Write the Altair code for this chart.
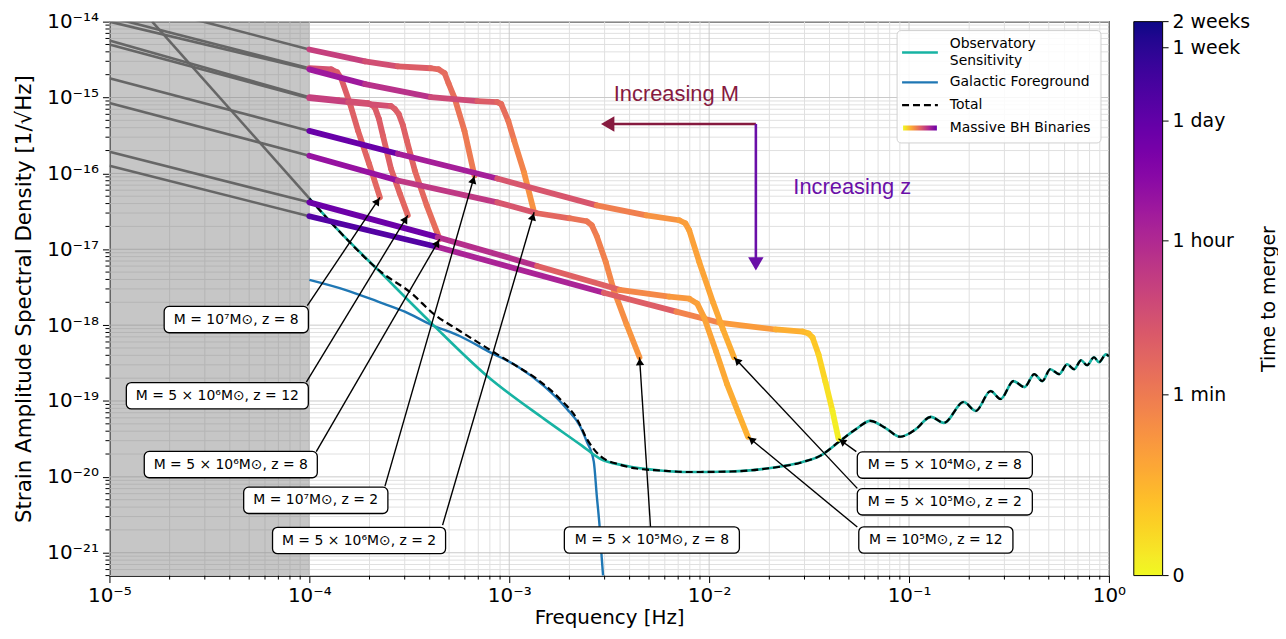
import math
import json
import altair as alt
import pandas as pd

W, H = 1005, 557
XDOM = [1e-5, 1.0]
YDOM = [5e-22, 1e-14]

# ---------------- tick labels ----------------
x_major = [1e-5, 1e-4, 1e-3, 1e-2, 1e-1, 1.0]
x_major_labels = ["10⁻⁵", "10⁻⁴", "10⁻³", "10⁻²", "10⁻¹", "10⁰"]
y_major = [1e-21, 1e-20, 1e-19, 1e-18, 1e-17, 1e-16, 1e-15, 1e-14]
y_major_labels = ["10⁻²¹", "10⁻²⁰", "10⁻¹⁹", "10⁻¹⁸", "10⁻¹⁷", "10⁻¹⁶", "10⁻¹⁵", "10⁻¹⁴"]
minor_mult = [2, 3, 4, 5, 6, 7, 8, 9]
x_decades = [1e-5, 1e-4, 1e-3, 1e-2, 1e-1]
y_decades = [1e-22, 1e-21, 1e-20, 1e-19, 1e-18, 1e-17, 1e-16, 1e-15]

# colour bar: time to merger [s]
cbar_values = [0, 60, 3600, 86400, 604800, 1209600]
cbar_labels = ["0", "1 min", "1 hour", "1 day", "1 week", "2 weeks"]
T_OFFSET = 0.5  # colour scale is log(t + 0.5)

shade_range = [1e-5, 1e-4]

# ---------------- noise curves ----------------
sens_lo_f = [1.636e-5, 1.0e-4]
sens_lo_h = [1.0e-14, 4.68e-17]

sens_f = [1.0e-4, 1.394e-4, 2.205e-4, 4.05e-4, 7.77e-4, 1.493e-3, 2.308e-3, 2.836e-3, 3.776e-3,
          5.705e-3, 7.86e-3, 1.287e-2, 1.943e-2, 2.935e-2, 3.607e-2, 4.435e-2, 5.45e-2, 6.40e-2,
          7.60e-2, 9.02e-2, 0.1071, 0.1287, 0.1493, 0.1878, 0.2154, 0.2559, 0.2869, 0.3330,
          0.3776, 0.4234, 0.4642, 0.5087, 0.5640, 0.618, 0.6696, 0.7255, 0.777, 0.842, 0.892,
          0.966, 1.0]
sens_h = [4.68e-17, 1.784e-17, 5.34e-18, 1.081e-18, 2.12e-19, 5.81e-20, 2.58e-20, 1.741e-20, 1.41e-20,
          1.213e-20, 1.159e-20, 1.177e-20, 1.288e-20, 1.567e-20, 1.906e-20, 2.862e-20, 4.30e-20, 5.47e-20,
          4.43e-20, 3.38e-20, 4.17e-20, 6.17e-20, 5.15e-20, 9.70e-20, 7.40e-20, 1.352e-19, 1.062e-19,
          1.827e-19, 1.525e-19, 2.257e-19, 1.827e-19, 2.62e-19, 2.257e-19, 3.05e-19, 2.62e-19, 3.44e-19,
          2.96e-19, 3.77e-19, 3.24e-19, 4.12e-19, 3.88e-19]

gal_f = [1.0e-4, 1.51e-4, 2.205e-4, 3.003e-4, 4.05e-4, 5.705e-4, 8.04e-4, 1.096e-3, 1.493e-3,
         1.943e-3, 2.255e-3, 2.443e-3, 2.648e-3, 2.74e-3, 2.836e-3, 2.902e-3, 3.004e-3]
gal_h = [3.95e-18, 2.92e-18, 2.04e-18, 1.507e-18, 1.018e-18, 7.09e-19, 4.38e-19, 2.87e-19, 1.571e-19,
         7.86e-20, 4.71e-20, 2.91e-20, 1.59e-20, 5.71e-21, 2.11e-21, 8.55e-22, 2.57e-22]

tot_f = [1.0e-4, 1.394e-4, 2.28e-4, 3.217e-4, 4.234e-4, 5.51e-4, 7.51e-4, 1.012e-3, 1.378e-3,
         1.794e-3, 2.18e-3, 2.443e-3, 2.836e-3, 3.565e-3, 4.33e-3] + sens_f[9:]
tot_h = [4.68e-17, 1.784e-17, 5.03e-18, 2.67e-18, 1.376e-18, 8.76e-19, 5.25e-19, 3.24e-19, 1.941e-19,
         1.062e-19, 5.81e-20, 3.18e-20, 1.906e-20, 1.453e-20, 1.288e-20] + sens_h[9:]

# ---------------- massive BH binary tracks (f [Hz], ASD, time to merger [s]) ----------------
m1e7z8_f = [1.0e-4, 1.287e-4, 1.378e-4, 1.443e-4, 1.60e-4, 1.753e-4, 1.99e-4, 2.255e-4]
m1e7z8_h = [2.43e-15, 2.35e-15, 2.15e-15, 1.79e-15, 8.19e-16, 3.63e-16, 1.34e-16, 4.82e-17]
m1e7z8_t = [577, 371, 320, 277, 239, 206, 178, 154]

m5e6z12_f = [1.0e-4, 1.394e-4, 1.966e-4, 2.058e-4, 2.13e-4, 2.23e-4, 2.335e-4, 2.56e-4, 2.835e-4, 3.11e-4]
m5e6z12_h = [1.01e-15, 9.25e-16, 8.44e-16, 7.95e-16, 7.27e-16, 5.21e-16, 3.13e-16, 1.156e-16, 5.44e-17, 2.80e-17]
m5e6z12_t = [1600, 775, 371, 320, 277, 255, 239, 206, 178, 154]

m5e6z8_f = [1.0e-4, 1.563e-4, 2.56e-4, 2.678e-4, 2.80e-4, 2.935e-4, 3.075e-4, 3.37e-4, 3.865e-4, 4.485e-4]
m5e6z8_h = [9.8e-16, 8.71e-16, 7.72e-16, 7.05e-16, 6.06e-16, 4.35e-16, 2.69e-16, 1.088e-16, 3.79e-17, 1.36e-17]
m5e6z8_t = [1600, 775, 320, 277, 239, 220, 206, 178, 133, 99]

m1e7z2_f = [1.0e-4, 1.90e-4, 2.77e-4, 4.05e-4, 4.435e-4, 4.75e-4, 4.97e-4, 5.33e-4, 5.97e-4, 6.70e-4]
m1e7z2_h = [4.30e-15, 3.00e-15, 2.58e-15, 2.43e-15, 2.35e-15, 2.09e-15, 1.543e-15, 9.8e-16, 3.63e-16, 9.36e-17]
m1e7z2_t = [1600, 775, 371, 178, 150, 133, 115, 99, 74, 55]

m5e6z2_f = [1.0e-4, 1.90e-4, 4.05e-4, 6.93e-4, 8.71e-4, 9.12e-4, 9.89e-4, 1.059e-3, 1.187e-3, 1.332e-3]
m5e6z2_h = [2.35e-15, 1.50e-15, 1.01e-15, 8.97e-16, 8.71e-16, 8.19e-16, 4.91e-16, 2.69e-16, 1.02e-16, 3.07e-17]
m5e6z2_t = [14600, 4500, 1200, 371, 178, 140, 100, 55, 30, 16.5]

m5e5z8_f = [1.0e-4, 2.77e-4, 8.71e-4, 1.378e-3, 2.01e-3, 2.443e-3, 2.587e-3, 2.74e-3, 3.04e-3, 3.33e-3, 3.865e-3, 4.485e-3]
m5e5z8_h = [1.71e-16, 8.05e-17, 4.15e-17, 2.98e-17, 2.56e-17, 2.34e-17, 2.07e-17, 1.489e-17, 6.80e-18, 2.92e-18, 1.02e-18, 3.77e-19]
m5e5z8_t = [30500, 4500, 577, 239, 99, 74, 64, 55, 41, 30, 22, 16.5]

m5e4z8_f = [1.0e-4, 4.385e-4, 2.97e-3, 6.85e-3, 1.121e-2, 2.154e-2, 2.935e-2, 3.145e-2, 3.29e-2, 3.525e-2, 3.82e-2, 4.14e-2, 4.435e-2]
m5e4z8_h = [2.72e-17, 1.069e-17, 2.67e-18, 1.507e-18, 1.081e-18, 8.76e-19, 8.24e-19, 7.77e-19, 6.88e-19, 4.12e-19, 1.773e-19, 7.40e-20, 3.18e-20]
m5e4z8_t = [770000, 30500, 775, 74, 22, 9.0, 4.7, 3.6, 2.9, 1.7, 0.9, 0.4, 0.08]

m5e5z2_f = [1.0e-4, 2.77e-4, 8.71e-4, 2.74e-3, 4.86e-3, 7.09e-3, 7.60e-3, 7.95e-3, 8.92e-3, 1.047e-2, 1.174e-2, 1.332e-2]
m5e5z2_h = [3.63e-16, 1.816e-16, 8.55e-17, 3.79e-17, 2.80e-17, 2.41e-17, 2.20e-17, 1.78e-17, 6.80e-18, 1.98e-18, 8.76e-19, 3.77e-19]
m5e5z2_t = [206000, 22700, 1600, 85, 30, 14.2, 13.0, 12.2, 10.4, 9.0, 7.6, 6.5]

m1e5z12_f = [1.0e-4, 4.385e-4, 1.378e-3, 3.565e-3, 6.32e-3, 7.95e-3, 8.72e-3, 9.44e-3, 1.083e-2, 1.229e-2, 1.394e-2, 1.563e-2]
m1e5z12_h = [4.15e-17, 1.444e-17, 6.03e-18, 2.92e-18, 2.37e-18, 2.23e-18, 1.92e-18, 1.257e-18, 4.51e-19, 1.67e-19, 7.18e-20, 3.38e-20]
m1e5z12_t = [370000, 9400, 775, 55, 19, 14.2, 12.2, 10.4, 9.0, 7.6, 6.5, 5.6]

# low-frequency (grey) continuation of each track: ASD at 1e-5 Hz
track_h_at_1e5 = [1.15e-14, 5.64e-15, 5.0e-15, 2.1e-14, 1.0e-14, 8.44e-16, 1.265e-16, 1.79e-15, 1.93e-16]

tracks = [
    (m1e7z8_f, m1e7z8_h, m1e7z8_t),
    (m5e6z12_f, m5e6z12_h, m5e6z12_t),
    (m5e6z8_f, m5e6z8_h, m5e6z8_t),
    (m1e7z2_f, m1e7z2_h, m1e7z2_t),
    (m5e6z2_f, m5e6z2_h, m5e6z2_t),
    (m5e5z8_f, m5e5z8_h, m5e5z8_t),
    (m5e4z8_f, m5e4z8_h, m5e4z8_t),
    (m5e5z2_f, m5e5z2_h, m5e5z2_t),
    (m1e5z12_f, m1e5z12_h, m1e5z12_t),
]

# ---------------- labels (same order as tracks) ----------------
label_text = ["M = 10⁷M⊙, z = 8", "M = 5 × 10⁶M⊙, z = 12", "M = 5 × 10⁶M⊙, z = 8",
              "M = 10⁷M⊙, z = 2", "M = 5 × 10⁶M⊙, z = 2", "M = 5 × 10⁵M⊙, z = 8",
              "M = 5 × 10⁴M⊙, z = 8", "M = 5 × 10⁵M⊙, z = 2", "M = 10⁵M⊙, z = 12"]
label_f = [4.31e-5, 3.465e-5, 4.046e-5, 1.077e-4, 1.773e-4, 5.17e-3, 0.151, 0.151, 0.1362]
label_h = [1.184e-18, 1.173e-19, 1.453e-20, 4.91e-21, 1.449e-21, 1.471e-21, 1.431e-20, 4.69e-21, 1.471e-21]
anchor_f = [9.77e-5, 9.66e-5, 1.083e-4, 2.388e-4, 4.64e-4, 5.09e-3, 5.45e-2, 5.51e-2, 5.51e-2]
anchor_h = [1.805e-18, 1.773e-19, 2.15e-20, 7.49e-21, 2.31e-21, 2.18e-21, 2.15e-20, 7.05e-21, 2.18e-21]
label_box_w = [145, 183, 174, 145, 174, 176, 176, 176, 155]
LABEL_BOX_H = 26.5

# "Increasing" annotation
incr_corner = (1.713e-2, 4.485e-16)
incr_M_tip = (2.836e-3, 4.485e-16)
incr_z_tip = (1.713e-2, 5.03e-18)
incr_M_text = (6.85e-3, 1.107e-15)
incr_z_text = (5.2e-2, 6.52e-17)

# ---------------- helpers ----------------
LX0, LX1 = math.log10(XDOM[0]), math.log10(XDOM[1])
LY0, LY1 = math.log10(YDOM[0]), math.log10(YDOM[1])


def to_px(f, h):
    return ((math.log10(f) - LX0) / (LX1 - LX0) * W, (LY1 - math.log10(h)) / (LY1 - LY0) * H)


def from_px(x, y):
    return (10 ** (LX0 + x / W * (LX1 - LX0)), 10 ** (LY1 - y / H * (LY1 - LY0)))


def head(tail, tip, back):
    x0, y0 = to_px(*tail)
    x1, y1 = to_px(*tip)
    dx, dy = x1 - x0, y1 - y0
    L = math.hypot(dx, dy)
    cx, cy = x1 - dx / L * back, y1 - dy / L * back
    f, h = from_px(cx, cy)
    return f, h, math.degrees(math.atan2(dx, -dy)) % 360


FONT = "DejaVu Sans"
xs = alt.Scale(type="log", domain=XDOM, nice=False)
ys = alt.Scale(type="log", domain=YDOM, nice=False)
x_lbl_expr = f"{json.dumps(x_major_labels, ensure_ascii=False)}[round(log(datum.value)/LN10)+5]"
y_lbl_expr = f"{json.dumps(y_major_labels, ensure_ascii=False)}[round(log(datum.value)/LN10)+21]"
XAXIS = alt.Axis(values=x_major, labelExpr=x_lbl_expr, title="Frequency [Hz]", grid=False,
                 labelFlush=False, labelOverlap=False, labelPadding=3, titlePadding=2)
YAXIS = alt.Axis(values=y_major, labelExpr=y_lbl_expr, title="Strain Amplitude Spectral Density [1/√Hz]",
                 grid=False, labelFlush=False, labelOverlap=False, labelPadding=4, titlePadding=11,
                 titleFontSize=21.5)


def X(field):
    return alt.X(f"{field}:Q", scale=xs, axis=XAXIS)


def Y(field):
    return alt.Y(f"{field}:Q", scale=ys, axis=YAXIS)


one = pd.DataFrame({"a": [0]})
layers = []

# minor + major grid
xminor = [m * d for d in x_decades for m in minor_mult]
yminor = [m * d for d in y_decades for m in minor_mult if YDOM[0] <= m * d <= YDOM[1]]
layers.append(alt.Chart(pd.DataFrame({"v": xminor})).mark_rule(color="#e0e0e0", strokeWidth=1).encode(x=X("v")))
layers.append(alt.Chart(pd.DataFrame({"v": yminor})).mark_rule(color="#e0e0e0", strokeWidth=1).encode(y=Y("v")))
layers.append(alt.Chart(pd.DataFrame({"v": x_major})).mark_rule(color="#cacaca", strokeWidth=1).encode(x=X("v")))
layers.append(alt.Chart(pd.DataFrame({"v": y_major})).mark_rule(color="#cacaca", strokeWidth=1).encode(y=Y("v")))

# shaded band
layers.append(alt.Chart(pd.DataFrame({"f1": [shade_range[0]], "f2": [shade_range[1]]})).mark_rect(
    fill="#808080", opacity=0.45).encode(x=X("f1"), x2="f2", y=alt.value(0), y2=alt.value(H)))

# grey low-frequency continuations
ext_df = pd.DataFrame({"f": [1e-5] * len(tracks), "h": track_h_at_1e5,
                       "f2": [tr[0][0] for tr in tracks], "h2": [tr[1][0] for tr in tracks]})
layers.append(alt.Chart(ext_df).mark_rule(color="#666666", strokeWidth=2.6, clip=True).encode(
    x=X("f"), x2="f2", y=Y("h"), y2="h2"))
layers.append(alt.Chart(pd.DataFrame({"f": sens_lo_f, "h": sens_lo_h})).mark_line(
    color="#666666", strokeWidth=2.6, clip=True).encode(x=X("f"), y=Y("h")))

# noise curves
layers.append(alt.Chart(pd.DataFrame({"f": gal_f, "h": gal_h})).mark_line(
    color="#1f77b4", strokeWidth=2.4, clip=True, interpolate="monotone").encode(x=X("f"), y=Y("h")))
layers.append(alt.Chart(pd.DataFrame({"f": sens_f, "h": sens_h})).mark_line(
    color="#17b3a3", strokeWidth=2.6, clip=True, interpolate="monotone").encode(x=X("f"), y=Y("h")))
layers.append(alt.Chart(pd.DataFrame({"f": tot_f, "h": tot_h})).mark_line(
    color="black", strokeWidth=2.2, strokeDash=[7, 4], clip=True, interpolate="monotone").encode(
    x=X("f"), y=Y("h")))

# tracks as coloured segments (colour = time to merger, log(t + 0.5))
rows = []
for k, (ff, hh, tt) in enumerate(tracks):
    for i in range(len(ff) - 1):
        tm = math.sqrt((tt[i] + T_OFFSET) * (tt[i + 1] + T_OFFSET)) - T_OFFSET
        rows.append({"trk": k, "f": ff[i], "h": hh[i], "f2": ff[i + 1], "h2": hh[i + 1], "t": tm})
seg_df = pd.DataFrame(rows)
TMAX = cbar_values[-1] + T_OFFSET
cscale = alt.Scale(type="log", domain=[T_OFFSET, TMAX], scheme="plasma", reverse=True)
layers.append(alt.Chart(seg_df).transform_calculate(tc=f"datum.t + {T_OFFSET}").mark_rule(
    strokeWidth=5.8, strokeCap="round", clip=True).encode(
    x=X("f"), x2="f2", y=Y("h"), y2="h2",
    color=alt.Color("tc:Q", scale=cscale, legend=alt.Legend(
        title=None, orient="none", legendX=1030, legendY=0, direction="vertical",
        gradientLength=H, gradientThickness=29, gradientStrokeColor="black", gradientStrokeWidth=1,
        values=[T_OFFSET, TMAX], labelExpr="''", labelOpacity=0))))


# colour-bar labels and ticks (same log(t + 0.5) mapping as the colour scale)
def cbar_y(v):
    return H * (1 - math.log10((v + T_OFFSET) / T_OFFSET) / math.log10(TMAX / T_OFFSET))


cb_df = pd.DataFrame({"y": [cbar_y(v) for v in cbar_values], "lab": cbar_labels})
layers.append(alt.Chart(cb_df).mark_text(font=FONT, fontSize=19, color="black", align="left",
                                         baseline="middle").encode(
    x=alt.value(1069), y=alt.Y("y:Q", scale=None, axis=None), text="lab:N"))
layers.append(alt.Chart(cb_df).mark_rule(color="black", strokeWidth=1).encode(
    x=alt.value(1059), x2=alt.value(1065), y=alt.Y("y:Q", scale=None, axis=None)))

# label arrows, heads, boxes, text
arr_rows, head_rows, box_rows, txt_rows = [], [], [], []
for k in range(len(tracks)):
    tip = (tracks[k][0][-1], tracks[k][1][-1])
    tail = (anchor_f[k], anchor_h[k])
    arr_rows.append({"f": tail[0], "h": tail[1], "f2": tip[0], "h2": tip[1]})
    hf, hh_, ang = head(tail, tip, 4.5)
    head_rows.append({"f": hf, "h": hh_, "ang": ang})
    cx, cy = to_px(label_f[k], label_h[k])
    f1, h1 = from_px(cx - label_box_w[k] / 2, cy + LABEL_BOX_H / 2)
    f2, h2 = from_px(cx + label_box_w[k] / 2, cy - LABEL_BOX_H / 2)
    box_rows.append({"f": f1, "h": h1, "f2": f2, "h2": h2})
    txt_rows.append({"f": label_f[k], "h": label_h[k], "txt": label_text[k]})

layers.append(alt.Chart(pd.DataFrame(arr_rows)).mark_rule(color="black", strokeWidth=1.4).encode(
    x=X("f"), x2="f2", y=Y("h"), y2="h2"))
layers.append(alt.Chart(pd.DataFrame(head_rows)).mark_point(
    shape="triangle-up", filled=True, size=70, color="black", opacity=1).encode(
    x=X("f"), y=Y("h"), angle=alt.Angle("ang:Q", scale=None)))
layers.append(alt.Chart(pd.DataFrame(box_rows)).mark_rect(
    fill="white", stroke="black", strokeWidth=1.3, cornerRadius=5).encode(
    x=X("f"), x2="f2", y=Y("h"), y2="h2"))
layers.append(alt.Chart(pd.DataFrame(txt_rows)).mark_text(
    font=FONT, fontSize=14, color="black", align="center", baseline="middle").encode(
    x=X("f"), y=Y("h"), text="txt:N"))

# Increasing M / z annotation
RED, PURP = "#861a3f", "#6a0fa8"
hM = head(incr_corner, incr_M_tip, 8)
hZ = head(incr_corner, incr_z_tip, 8)
layers.append(alt.Chart(pd.DataFrame({"f": [incr_corner[0]], "h": [incr_corner[1]],
                                      "f2": [hM[0]], "h2": [hM[1]]})).mark_rule(
    color=RED, strokeWidth=2.6).encode(x=X("f"), x2="f2", y=Y("h"), y2="h2"))
layers.append(alt.Chart(pd.DataFrame({"f": [incr_corner[0]], "h": [incr_corner[1]],
                                      "f2": [hZ[0]], "h2": [hZ[1]]})).mark_rule(
    color=PURP, strokeWidth=2.6).encode(x=X("f"), x2="f2", y=Y("h"), y2="h2"))
layers.append(alt.Chart(pd.DataFrame({"f": [hM[0]], "h": [hM[1]], "ang": [hM[2]]})).mark_point(
    shape="triangle-up", filled=True, size=240, color=RED, opacity=1).encode(
    x=X("f"), y=Y("h"), angle=alt.Angle("ang:Q", scale=None)))
layers.append(alt.Chart(pd.DataFrame({"f": [hZ[0]], "h": [hZ[1]], "ang": [hZ[2]]})).mark_point(
    shape="triangle-up", filled=True, size=240, color=PURP, opacity=1).encode(
    x=X("f"), y=Y("h"), angle=alt.Angle("ang:Q", scale=None)))
layers.append(alt.Chart(pd.DataFrame({"f": [incr_M_text[0]], "h": [incr_M_text[1]], "txt": ["Increasing M"]})).mark_text(
    font="Liberation Sans", fontSize=22, color=RED, align="center", baseline="middle").encode(
    x=X("f"), y=Y("h"), text="txt:N"))
layers.append(alt.Chart(pd.DataFrame({"f": [incr_z_text[0]], "h": [incr_z_text[1]], "txt": ["Increasing z"]})).mark_text(
    font="Liberation Sans", fontSize=22, color=PURP, align="center", baseline="middle").encode(
    x=X("f"), y=Y("h"), text="txt:N"))


# legend (drawn)
def vtext(txt, x, y, **kw):
    return alt.Chart(one).mark_text(text=txt, font=FONT, fontSize=14, color="black",
                                    align="left", baseline="middle", **kw).encode(
        x=alt.value(x), y=alt.value(y))


layers.append(alt.Chart(one).mark_rect(fill="white", fillOpacity=0.85, stroke="#d0d0d0",
                                       strokeWidth=1, cornerRadius=4).encode(
    x=alt.value(792), x2=alt.value(997), y=alt.value(9), y2=alt.value(122)))
layers.append(alt.Chart(one).mark_rule(color="#17b3a3", strokeWidth=2.6).encode(
    x=alt.value(797), x2=alt.value(833), y=alt.value(31)))
layers.append(alt.Chart(one).mark_rule(color="#1f77b4", strokeWidth=2.2).encode(
    x=alt.value(797), x2=alt.value(833), y=alt.value(61)))
layers.append(alt.Chart(one).mark_rule(color="black", strokeWidth=2.2, strokeDash=[7, 4]).encode(
    x=alt.value(797), x2=alt.value(833), y=alt.value(84)))
grad = alt.Gradient(gradient="linear", x1=0, x2=1, y1=0, y2=0, stops=[
    alt.GradientStop(color="#f0f921", offset=0), alt.GradientStop(color="#fca636", offset=0.25),
    alt.GradientStop(color="#e16462", offset=0.5), alt.GradientStop(color="#b12a90", offset=0.75),
    alt.GradientStop(color="#6a00a8", offset=1)])
layers.append(alt.Chart(one).mark_rect(fill=grad).encode(
    x=alt.value(798), x2=alt.value(832), y=alt.value(104.5), y2=alt.value(109.5)))
layers.append(vtext("Observatory", 845, 23))
layers.append(vtext("Sensitivity", 845, 39.5))
layers.append(vtext("Galactic Foreground", 845, 61))
layers.append(vtext("Total", 845, 84))
layers.append(vtext("Massive BH Binaries", 845, 107))

# minor ticks outside the frame
layers.append(alt.Chart(pd.DataFrame({"v": xminor})).mark_rule(color="black", strokeWidth=1).encode(
    x=X("v"), y=alt.value(H), y2=alt.value(H + 4)))
layers.append(alt.Chart(pd.DataFrame({"v": yminor})).mark_rule(color="black", strokeWidth=1).encode(
    y=Y("v"), x=alt.value(-4), x2=alt.value(0)))

# colour-bar title
layers.append(alt.Chart(one).mark_text(text="Time to merger", font=FONT, fontSize=19, color="black",
                                       angle=270, align="center", baseline="middle").encode(
    x=alt.value(1166), y=alt.value(279)))

chart = alt.layer(*layers).properties(
    width=W, height=H,
    padding={"left": 102, "top": 12, "right": 170, "bottom": 52},
    autosize=alt.AutoSizeParams(type="none"),
).configure_view(stroke="black", strokeWidth=1.2).configure_axis(
    domainColor="black", tickColor="black", labelColor="black", titleColor="black",
    labelFont=FONT, titleFont=FONT, labelFontSize=20, titleFontSize=20, titleFontWeight="normal",
    grid=False, tickSize=7, domainWidth=1.2,
)

chart.save("out.html", embed_options={"renderer": "svg", "actions": False})
